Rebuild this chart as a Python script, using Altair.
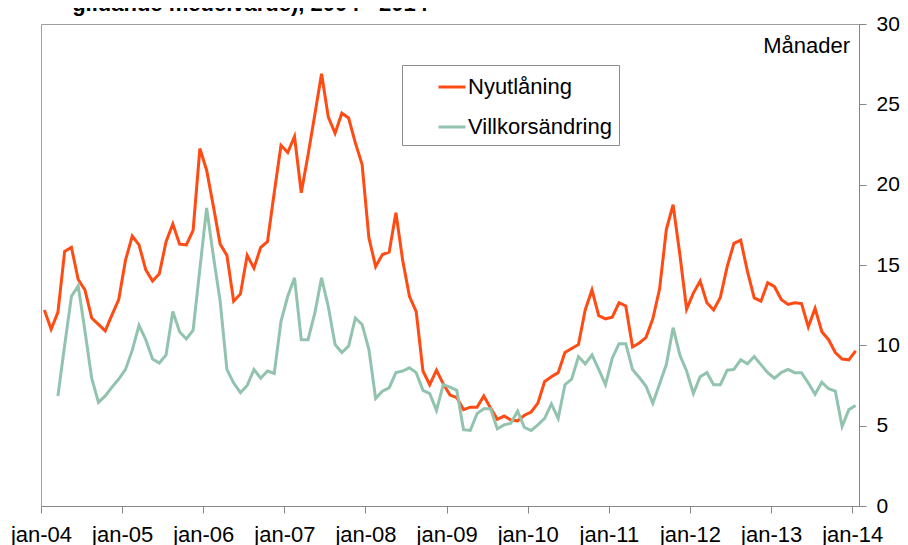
import altair as alt
import pandas as pd

# Monthly values, jan-04 .. jan-14 (months)
nyutlaning = [
    12.2, 11.0, 12.05, 15.85, 16.1, 14.1, 13.45, 11.7, 11.3, 10.9, 11.9, 12.85,
    15.3, 16.8, 16.25, 14.7, 14.0, 14.45, 16.45, 17.55, 16.3, 16.25, 17.15, 22.25,
    20.9, 18.65, 16.3, 15.6, 12.75, 13.2, 15.6, 14.8, 16.1, 16.45, 19.5, 22.45,
    22.0, 23.0, 19.5, 21.85, 24.35, 26.9, 24.2, 23.2, 24.45, 24.15, 22.6, 21.25,
    16.7, 14.9, 15.65, 15.8, 18.25, 15.3, 13.05, 12.1, 8.4, 7.55, 8.45, 7.6,
    6.9, 6.75, 6.0, 6.15, 6.15, 6.85, 6.1, 5.4, 5.6, 5.35, 5.3, 5.65,
    5.85, 6.4, 7.75, 8.05, 8.3, 9.55, 9.8, 10.05, 12.2, 13.45, 11.85, 11.65,
    11.75, 12.65, 12.45, 9.9, 10.15, 10.5, 11.65, 13.5, 17.2, 18.75, 15.65, 12.25,
    13.25, 14.0, 12.65, 12.2, 13.0, 14.9, 16.35, 16.55, 14.6, 12.95, 12.75, 13.9,
    13.65, 12.85, 12.55, 12.65, 12.6, 11.15, 12.3, 10.85, 10.35, 9.55, 9.15, 9.1,
    9.65,
]
villkorsandring = [
    None, None, 6.85, 10.0, 13.05, 13.7, 10.9, 7.95, 6.45, 6.85, 7.4, 7.9,
    8.5, 9.7, 11.25, 10.35, 9.15, 8.9, 9.4, 12.1, 10.85, 10.4, 10.95, 14.75,
    18.55, 15.55, 12.75, 8.5, 7.65, 7.05, 7.5, 8.5, 7.95, 8.4, 8.25, 11.5,
    13.05, 14.2, 10.35, 10.35, 12.0, 14.2, 12.4, 10.05, 9.55, 9.95, 11.7, 11.3,
    9.75, 6.7, 7.15, 7.35, 8.3, 8.4, 8.6, 8.3, 7.2, 7.0, 5.95, 7.55,
    7.4, 7.2, 4.75, 4.7, 5.75, 6.05, 6.05, 4.8, 5.05, 5.15, 5.9, 4.9,
    4.7, 5.05, 5.45, 6.35, 5.45, 7.55, 7.9, 9.3, 8.85, 9.4, 8.5, 7.55,
    9.2, 10.1, 10.1, 8.5, 8.0, 7.45, 6.4, 7.6, 8.8, 11.1, 9.4, 8.4,
    7.0, 8.05, 8.3, 7.55, 7.55, 8.45, 8.5, 9.1, 8.85, 9.3, 8.8, 8.3,
    7.95, 8.3, 8.5, 8.3, 8.3, 7.65, 6.95, 7.7, 7.3, 7.15, 4.95, 6.0,
    6.25,
]
series_names = ["Nyutlåning", "Villkorsändring"]
series_colors = ["#FF4B14", "#92C3AE"]
tick_months = list(range(0, 121, 12))
y_ticks = [0, 5, 10, 15, 20, 25, 30]
title_text = "glidande medelvärde), 2004 - 2014"
unit_text = "Månader"

rows = []
for i, (a, b) in enumerate(zip(nyutlaning, villkorsandring)):
    rows.append({"m": i + 0.5, "serie": series_names[0], "v": a})
    rows.append({"m": i + 0.5, "serie": series_names[1], "v": b})
df = pd.DataFrame(rows)

FONT = "Liberation Sans"
AX = "#868686"

lines = alt.Chart(df).mark_line(strokeWidth=3, interpolate="linear").encode(
    x=alt.X(
        "m:Q",
        scale=alt.Scale(domain=[0, 121], nice=False, zero=False),
        axis=alt.Axis(
            values=tick_months,
            labelExpr="'jan-' + (datum.value < 72 ? '0' : '') + (4 + datum.value / 12)",
            title=None,
            grid=False,
            tickSize=7,
            labelPadding=11,
            labelFontSize=22,
            labelFlush=False,
            labelOverlap=False,
        ),
    ),
    y=alt.Y(
        "v:Q",
        scale=alt.Scale(domain=[0, 30], nice=False),
        axis=alt.Axis(
            orient="right",
            values=y_ticks,
            title=None,
            grid=False,
            tickSize=7,
            labelPadding=10,
            labelFontSize=21,
            labelFlush=False,
        ),
    ),
    color=alt.Color(
        "serie:N",
        scale=alt.Scale(domain=series_names, range=series_colors),
        legend=alt.Legend(
            title=None,
            orient="none",
            legendX=361,
            legendY=41,
            fillColor="white",
            strokeColor="#8C8C8C",
            padding=7,
            symbolType="stroke",
            symbolSize=729,
            symbolStrokeWidth=3,
            symbolOffset=28,
            labelOffset=1,
            labelFontSize=22,
            labelFont=FONT,
            labelColor="black",
            rowPadding=14,
            labelLimit=300,
        ),
    ),
)

title_layer = alt.Chart(pd.DataFrame({"t": [title_text]})).mark_text(
    align="right", baseline="alphabetic", fontSize=22, fontWeight="bold", font=FONT, color="black"
).encode(text="t:N", x=alt.value(387), y=alt.value(-13))

unit_layer = alt.Chart(pd.DataFrame({"t": [unit_text]})).mark_text(
    align="right", baseline="alphabetic", fontSize=22, font=FONT, color="black"
).encode(text="t:N", x=alt.value(809), y=alt.value(29))

chart = alt.layer(lines, title_layer, unit_layer).properties(
    width=818,
    height=482,
    autosize=alt.AutoSizeParams(type="none"),
    padding={"left": 33, "top": 16, "right": 41, "bottom": 40},
).configure_view(
    stroke="#A0A0A0", strokeWidth=1
).configure_axis(
    domainColor=AX, tickColor=AX, labelColor="black", labelFont=FONT,
    domainWidth=1, tickWidth=1,
)

chart.save("out.html", embed_options={"renderer": "svg", "actions": False})
